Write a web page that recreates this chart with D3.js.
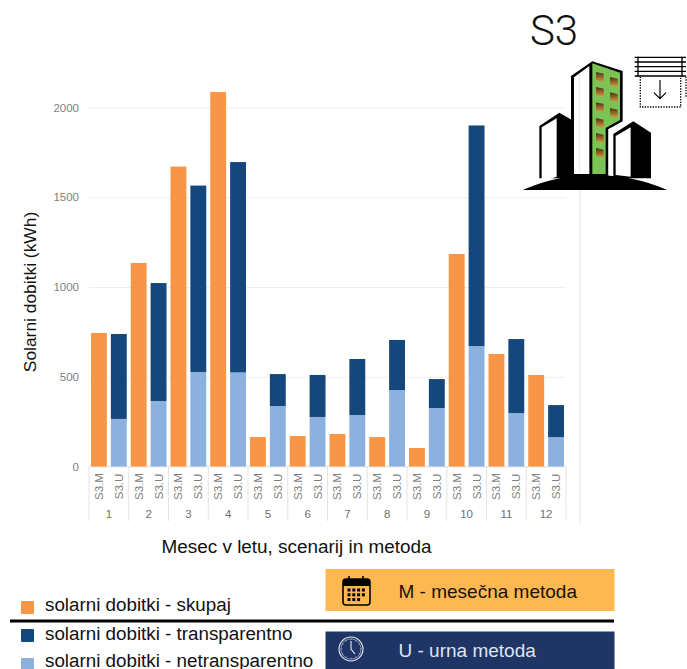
<!DOCTYPE html>
<html>
<head>
<meta charset="utf-8">
<script src="https://cdn.jsdelivr.net/npm/d3@7"></script>
<style>
html,body{margin:0;padding:0;background:#fff;overflow:hidden}
svg{display:block}
text{font-family:"Liberation Sans",Arial,sans-serif}
</style>
</head>
<body>
<svg id="chart" width="687" height="669"></svg>
<script>
// Monthly solar gains for scenario S3, by calculation method
const months = [1,2,3,4,5,6,7,8,9,10,11,12];
const methods = ["S3.M","S3.U"];
const yTicks = [0,500,1000,1500,2000];
const monthlyTotal = [744,1134,1671,2086,164,170,181,164,103,1184,627,510];
const hourlyOpaque = [265,365,526,524,337,276,287,426,326,671,298,164];
const hourlyGlazed = [473,657,1039,1172,178,234,312,279,161,1229,412,178];
const colors = {total:"#f79646", glazed:"#14477c", opaque:"#8db1de"};

const svg = d3.select("#chart");
const x0 = d3.scaleBand().domain(months).range([89,566]);
const x1 = d3.scaleBand().domain(methods).range([0,x0.bandwidth()]).paddingInner(0.2).paddingOuter(0.1);
const y = d3.scaleLinear().domain([0,2000]).range([466.5,107.5]);

// Gridlines and value axis labels
const yAxis = d3.axisLeft(y).tickValues(yTicks).tickSize(0).tickPadding(10).tickFormat(d3.format("d"));
const yG = svg.append("g").attr("transform","translate(89,0)").call(yAxis);
yG.select(".domain").remove();
yG.selectAll("text").attr("fill","#7f7f7f").style("font-size","11.5px").style("font-family",'"Liberation Sans",Arial,sans-serif');
yG.selectAll(".tick").append("line").attr("x1",0).attr("x2",477).attr("stroke","#eeeeee").attr("stroke-width",1.2);

// Right edge of the plot area
svg.append("line").attr("x1",580).attr("x2",580).attr("y1",190).attr("y2",525).attr("stroke","#e6e6e6").attr("stroke-width",1);

// Multi-level category axis
svg.append("g").selectAll("line").data(d3.range(13)).join("line")
  .attr("x1",d=>89+d*x0.step()).attr("x2",d=>89+d*x0.step())
  .attr("y1",y(0)).attr("y2",521).attr("stroke","#e4e4e4").attr("stroke-width",1);
svg.append("line").attr("x1",89).attr("x2",566).attr("y1",y(0)).attr("y2",y(0)).attr("stroke","#e4e4e4");

const groups = svg.append("g").selectAll("g").data(months).join("g")
  .attr("transform",d=>`translate(${x0(d)},0)`);

// Monthly method: one bar with the total
groups.append("rect")
  .attr("x",x1("S3.M")).attr("width",x1.bandwidth())
  .attr("y",d=>y(monthlyTotal[d-1])).attr("height",d=>y(0)-y(monthlyTotal[d-1]))
  .attr("fill",colors.total);

// Hourly method: opaque and glazed parts stacked
const stackRows = months.map((m,i)=>({month:m,opaque:hourlyOpaque[i],glazed:hourlyGlazed[i]}));
const stacked = d3.stack().keys(["opaque","glazed"])(stackRows);
svg.append("g").selectAll("g").data(stacked).join("g")
  .attr("fill",s=>colors[s.key])
  .selectAll("rect").data(s=>s).join("rect")
  .attr("x",d=>x0(d.data.month)+x1("S3.U")).attr("width",x1.bandwidth())
  .attr("y",d=>y(d[1])).attr("height",d=>y(d[0])-y(d[1]));

// Category labels
groups.selectAll("text.method").data(methods).join("text").attr("class","method")
  .attr("transform",m=>`translate(${x1(m)+x1.bandwidth()/2+4},486.5) rotate(-90)`)
  .attr("text-anchor","middle").attr("fill","#7f7f7f").style("font-size","11.5px").text(m=>m);
groups.append("text").attr("x",x0.bandwidth()/2).attr("y",518)
  .attr("text-anchor","middle").attr("fill","#6f6f6f").style("font-size","11.5px").text(d=>d);

// Axis titles
svg.append("text").attr("x",296.5).attr("y",553).attr("text-anchor","middle")
  .attr("fill","#111").style("font-size","18.9px").text("Mesec v letu, scenarij in metoda");
svg.append("text").attr("transform","translate(36,292) rotate(-90)").attr("text-anchor","middle")
  .attr("fill","#111").style("font-size","17.4px").text("Solarni dobitki (kWh)");

// Series legend
const legendItems = [
  {label:"solarni dobitki - skupaj",color:colors.total,box:601,base:610.5},
  {label:"solarni dobitki - transparentno",color:colors.glazed,box:629,base:639.5},
  {label:"solarni dobitki - netransparentno",color:colors.opaque,box:658,base:666.5}
];
const lg = svg.append("g").selectAll("g").data(legendItems).join("g");
lg.append("rect").attr("x",21).attr("width",13).attr("height",13).attr("y",d=>d.box).attr("rx",1).attr("fill",d=>d.color);
lg.append("text").attr("x",45).attr("y",d=>d.base).attr("fill","#111").style("font-size","18.8px").text(d=>d.label);

// Method key
svg.append("rect").attr("x",325.5).attr("y",569).attr("width",289).attr("height",42).attr("fill","#fdb852");
svg.append("rect").attr("x",325.5).attr("y",631.5).attr("width",289).attr("height",40).attr("fill","#1f3566");
svg.append("line").attr("x1",10).attr("x2",614).attr("y1",621).attr("y2",621).attr("stroke","#000").attr("stroke-width",3);
svg.append("text").attr("x",398.5).attr("y",598).attr("fill","#1a1206").style("font-size","19px").text("M - mesečna metoda");
svg.append("text").attr("x",398.5).attr("y",657).attr("fill","#dfe5f1").style("font-size","19px").text("U - urna metoda");

// Calendar symbol
const cal = svg.append("g").attr("transform","translate(342,576)");
cal.append("rect").attr("x",1).attr("y",3).attr("width",27).attr("height",26).attr("rx",3).attr("fill","none").attr("stroke","#000").attr("stroke-width",1.6);
cal.append("path").attr("d","M1 10V6a3 3 0 0 1 3-3h21a3 3 0 0 1 3 3v4z").attr("fill","#000");
cal.append("g").selectAll("line").data([7,21]).join("line").attr("x1",d=>d).attr("x2",d=>d).attr("y1",0).attr("y2",6).attr("stroke","#000").attr("stroke-width",1.6);
const calCells = d3.cross([0,1,2],[0,1,2,3]).filter(([r,c])=>!(r===2&&c===3));
cal.append("g").selectAll("rect").data(calCells).join("rect")
  .attr("x",d=>5.5+d[1]*4.8).attr("y",d=>12.5+d[0]*4.8).attr("width",3).attr("height",3).attr("fill","#000");

// Clock symbol
const clk = svg.append("g").attr("transform","translate(351,649)").attr("fill","none").attr("stroke","#e6ebf5");
clk.append("circle").attr("r",12).attr("stroke-width",1.1);
clk.append("circle").attr("r",10.2).attr("stroke-width",0.5);
clk.append("path").attr("d","M0 -8V0L4 5").attr("stroke-width",1.1);
clk.append("g").selectAll("line").data(d3.range(12)).join("line")
  .attr("y1",-10).attr("y2",-8.8).attr("stroke-width",0.6).attr("transform",d=>`rotate(${d*30})`);

// Scenario heading
svg.append("text").attr("x",554).attr("y",45).attr("text-anchor","middle")
  .attr("fill","#111").style("font-family","Roboto").style("font-weight",300).style("font-size","42px").text("S3");

// Building pictogram
const bld = svg.append("g").attr("transform","translate(510,0) scale(0.3333)");
const grad = svg.append("defs").append("linearGradient").attr("id","win").attr("x1",0).attr("y1",0).attr("x2",0).attr("y2",1);
grad.append("stop").attr("offset",0).attr("stop-color","#4a3212");
grad.append("stop").attr("offset",1).attr("stop-color","#d9983e");

bld.append("path").attr("d","M88 378L148 338L190 362V535H88Z").attr("fill","#000");
bld.append("path").attr("d","M95 382L140 355V530L95 545Z").attr("fill","#fff");
bld.append("path").attr("d","M310 402L370 364L423 398V535H310Z").attr("fill","#000");
bld.append("path").attr("d","M317 408L362 382V530L317 525Z").attr("fill","#fff");
bld.append("path").attr("d","M183 228L247 184L338 213V364L295 388V530H183Z").attr("fill","#000");
bld.append("path").attr("d","M192 232L238 198V522H192Z").attr("fill","#fff");
bld.append("path").attr("d","M208 222V522").attr("stroke","#cfcfcf").attr("stroke-width",1.5);
bld.append("path").attr("d","M247 190L330 218V360L287 384V522H247Z").attr("fill","#7bc354");
bld.append("path").attr("d","M296 388L308 382V525H296Z").attr("fill","#fff");
const winRows = [[258,216],[258,261],[258,307],[258,354],[258,399],[258,444],[300,231],[300,277],[300,324]];
bld.append("g").selectAll("path").data(winRows).join("path")
  .attr("d",d=>`M${d[0]} ${d[1]}l23 5v24l-23 -5z`).attr("fill","url(#win)");
bld.append("path").attr("d","M38 570Q140 525 250 525Q370 525 472 570Z").attr("fill","#000");

// Roller blind symbol
const blind = bld.append("g").attr("fill","none").attr("stroke","#000");
blind.append("g").selectAll("line").data([172,186,200,214,228]).join("line")
  .attr("x1",374).attr("x2",528).attr("y1",d=>d).attr("y2",d=>d).attr("stroke-width",4);
blind.append("g").selectAll("line").data([384,516]).join("line")
  .attr("x1",d=>d).attr("x2",d=>d).attr("y1",170).attr("y2",230).attr("stroke-width",4);
blind.append("path").attr("d","M391 230V321H512V230M528 230V290").attr("stroke-width",4).attr("stroke-dasharray","4 4");
blind.append("path").attr("d","M450 240V295M432 278L450 296L468 278").attr("stroke-width",3.5);
</script>
</body>
</html>
